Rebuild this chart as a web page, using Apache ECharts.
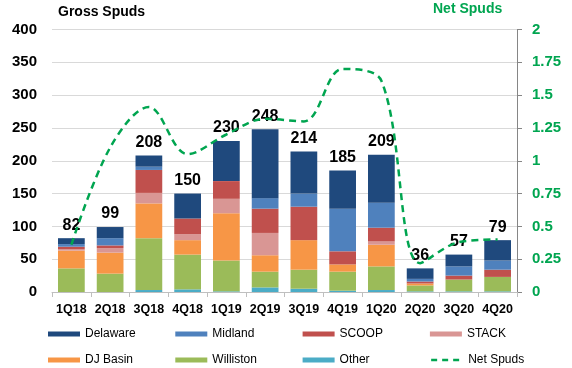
<!DOCTYPE html>
<html>
<head>
<meta charset="utf-8">
<script src="https://cdn.jsdelivr.net/npm/echarts@6/dist/echarts.min.js"></script>
<style>html,body{margin:0;padding:0;background:#fff}#c{width:572px;height:368px}</style>
</head>
<body>
<div id="c"></div>
<script>
const categories = ['1Q18','2Q18','3Q18','4Q18','1Q19','2Q19','3Q19','4Q19','1Q20','2Q20','3Q20','4Q20'];
const delaware  = [9,17,17,38,61,105,64,58,73,16,18,31];
const midland   = [4,11,5,0,0,16,20,65,38,4,14,14];
const scoop     = [4,4,35,24,27,37,51,20,21,3,6,11];
const stack     = [2,7,16,9,22,34,0,0,5,0,0,0];
const djBasin   = [27,32,53,22,72,25,45,11,33,3,0,0];
const williston = [36,28,79,53,47,24,29,29,36,9,18,22];
const other     = [0,0,3,4,1,7,5,2,3,1,1,1];
const netSpuds  = [0.36,1.10,1.41,1.05,1.20,1.32,1.30,1.70,1.61,0.22,0.38,0.40];
const leftTicks = [0,50,100,150,200,250,300,350,400];
const rightTicks = [0,0.25,0.5,0.75,1,1.25,1.5,1.75,2];

const green = '#00A550';
const FONT = 'Liberation Sans, Arial, sans-serif';
const layers = [
  {name:'Other', data: other, color:'#4BACC6'},
  {name:'Williston', data: williston, color:'#9BBB59'},
  {name:'DJ Basin', data: djBasin, color:'#F79646'},
  {name:'STACK', data: stack, color:'#D99694'},
  {name:'SCOOP', data: scoop, color:'#C0504D'},
  {name:'Midland', data: midland, color:'#4F81BD'},
  {name:'Delaware', data: delaware, color:'#1F497D'}
];
const totals = categories.map((c,i)=>layers.reduce((s,l)=>s+l.data[i],0));
const legendOrder = ['Delaware','Midland','SCOOP','STACK','DJ Basin','Williston','Other','Net Spuds'];

const series = layers.map(l => ({
  name: l.name, type: 'bar', stack: 'gross', data: l.data, barWidth: '69%',
  itemStyle: {color: l.color}, emphasis: {disabled: true},
  label: l.name === 'Delaware' ? {
    show: true, position: 'top', distance: 5,
    formatter: p => String(totals[p.dataIndex]),
    fontFamily: FONT, fontWeight: 'bold', fontSize: 16, color: '#000'
  } : {show: false}
}));
series.push({
  name: 'Net Spuds', type: 'line', yAxisIndex: 1, data: netSpuds,
  smooth: 0.35, symbol: 'none', z: 10,
  lineStyle: {color: green, width: 2.5, type: [7,5]},
  itemStyle: {color: green}
});

const legends = legendOrder.map((n,i)=>{
  const isLine = n === 'Net Spuds';
  const lg = {
    data: [n],
    left: 48 + (i%4)*127.3,
    top: 328 + Math.floor(i/4)*26,
    padding: 0,
    itemWidth: 32, itemHeight: isLine ? 10 : 5,
    itemGap: 5,
    textStyle: {fontFamily: FONT, fontSize: 12, color: '#000'},
    selectedMode: false
  };
  if (isLine) {
    lg.itemStyle = {opacity: 0};
    lg.lineStyle = {color: green, width: 2.5, type: [6,5]};
  } else {
    lg.icon = 'rect';
  }
  return lg;
});

const chart = echarts.init(document.getElementById('c'), null, {renderer: 'canvas'});
chart.setOption({
  animation: false,
  backgroundColor: '#fff',
  title: [
    {text: 'Gross Spuds', left: 58, top: 5, padding: 0, textStyle: {fontFamily: FONT, fontSize: 14, fontWeight: 'bold', color: '#000'}},
    {text: 'Net Spuds', left: 433, top: 2, padding: 0, textStyle: {fontFamily: FONT, fontSize: 14, fontWeight: 'bold', color: green}}
  ],
  legend: legends,
  grid: {left: 52, right: 55, top: 29.5, bottom: 76, containLabel: false},
  xAxis: {
    type: 'category', data: categories,
    axisLine: {lineStyle: {color: '#BFBFBF'}},
    axisTick: {show: true, length: 5, interval: 0, lineStyle: {color: '#BFBFBF'}},
    axisLabel: {interval: 0, margin: 11, fontFamily: FONT, fontWeight: 'bold', fontSize: 12.5, color: '#000'}
  },
  yAxis: [
    {type: 'value', min: leftTicks[0], max: leftTicks[leftTicks.length-1], interval: leftTicks[1]-leftTicks[0],
     axisLine: {show: false}, axisTick: {show: false},
     splitLine: {lineStyle: {color: '#D9D9D9'}},
     axisLabel: {margin: 15, fontFamily: FONT, fontWeight: 'bold', fontSize: 15, color: '#000'}},
    {type: 'value', min: rightTicks[0], max: rightTicks[rightTicks.length-1], interval: rightTicks[1]-rightTicks[0],
     position: 'right',
     axisLine: {show: true, lineStyle: {color: '#868686'}},
     axisTick: {show: true, length: 5, inside: false, lineStyle: {color: '#868686'}},
     splitLine: {show: false},
     axisLabel: {margin: 15, fontFamily: FONT, fontWeight: 'bold', fontSize: 15, color: green,
       formatter: v => String(v)}}
  ],
  series: series
});
</script>
</body>
</html>
